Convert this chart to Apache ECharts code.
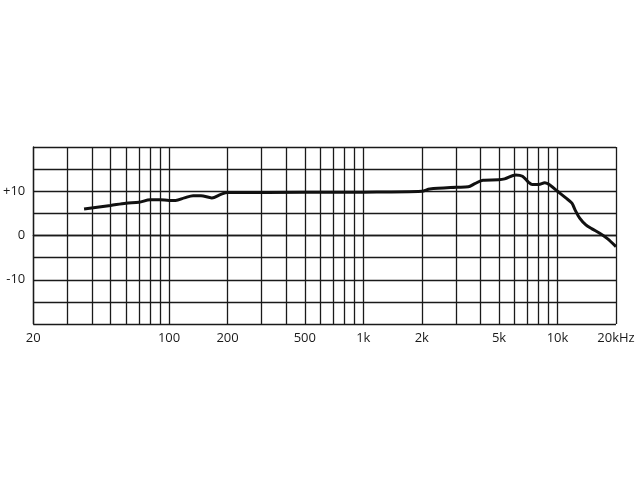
<!DOCTYPE html>
<html lang="en" style="height: 100%">
<head>
    <meta charset="utf-8">
    <title>Frequency response</title>
    <script src="https://cdn.jsdelivr.net/npm/echarts@6/dist/echarts.min.js"></script>
</head>
<body style="height: 100%; margin: 0; background: #fff">
<div id="main" style="width: 640px; height: 480px"></div>
<script type="text/javascript">
    // response curve (Hz, dB)
    var freqs = [36.5, 50, 60, 70, 80, 90, 100, 108, 120, 133, 146, 166, 185, 200,
        500, 1000, 2000, 2200, 3000, 3470, 3750, 4130, 4970, 5340, 6100, 6600,
        7100, 7400, 8000, 8600, 9200, 10000, 11030, 11860, 12310, 13000, 13990,
        15060, 16490, 18060, 20000];
    var levels = [6.0, 6.8, 7.3, 7.5, 8.1, 8.1, 7.9, 7.9, 8.5, 9.0, 9.0, 8.5, 9.3, 9.7,
        9.75, 9.8, 10.0, 10.5, 10.9, 11.0, 11.7, 12.5, 12.6, 12.8, 13.7, 13.4,
        12.0, 11.5, 11.5, 11.9, 11.3, 10.0, 8.5, 7.3, 5.8, 3.9, 2.4,
        1.5, 0.5, -0.7, -2.5];

    // vertical grid lines and labelled frequencies
    var gridFreqs = [20, 30, 40, 50, 60, 70, 80, 90, 100, 200,
        300, 400, 500, 600, 700, 800, 900, 1000, 2000,
        3000, 4000, 5000, 6000, 7000, 8000, 9000, 10000, 20000];
    var labelFreqs = [20, 100, 200, 500, 1000, 2000, 5000, 10000, 20000];
    var labelText = ['20', '100', '200', '500', '1k', '2k', '5k', '10k', '20kHz'];
    var levelLabels = {'10': '+10', '0': '0', '-10': '-10'};

    var curve = [];
    for (var i = 0; i < freqs.length; i++) {
        curve.push([freqs[i], levels[i]]);
    }

    var chart = echarts.init(document.getElementById('main'));
    var ink = '#1a1a1a';
    var option = {
        animation: false,
        grid: {
            left: 30,
            right: 24,
            top: 147,
            bottom: 156
        },
        xAxis: {
            type: 'log',
            logBase: 10,
            min: 20,
            max: 20000,
            axisLine: {lineStyle: {color: ink, width: 1.3}},
            axisTick: {show: false, customValues: gridFreqs},
            splitLine: {show: true, lineStyle: {color: ink, width: 1.3}},
            minorSplitLine: {show: false},
            axisLabel: {
                customValues: labelFreqs,
                margin: 8,
                color: ink,
                fontFamily: 'Open Sans',
                fontSize: 13,
                formatter: function (v) {
                    var k = labelFreqs.indexOf(Math.round(v));
                    return k >= 0 ? labelText[k] : '';
                }
            }
        },
        yAxis: {
            type: 'value',
            min: -20,
            max: 20,
            interval: 5,
            axisLine: {show: true, lineStyle: {color: ink, width: 1.3}},
            axisTick: {show: false},
            splitLine: {show: true, lineStyle: {color: ink, width: 1.3}},
            axisLabel: {
                margin: 8,
                color: ink,
                fontFamily: 'Open Sans',
                fontSize: 13,
                formatter: function (v) {
                    var s = levelLabels[String(v)];
                    return s === undefined ? '' : s;
                }
            }
        },
        series: [{
            type: 'line',
            data: curve,
            smooth: 0.3,
            symbol: 'none',
            lineStyle: {color: '#111', width: 3}
        }]
    };
    chart.setOption(option);
</script>
</body>
</html>
